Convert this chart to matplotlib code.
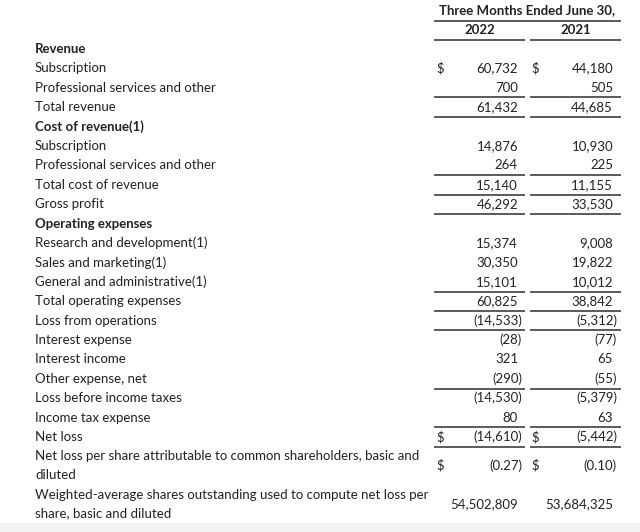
import matplotlib.pyplot as plt
from matplotlib.patches import Rectangle

plt.rcParams['font.family'] = ['Lato', 'DejaVu Sans']

# table content
labels = ["Revenue", "Subscription", "Professional services and other", "Total revenue",
          "Cost of revenue(1)", "Subscription", "Professional services and other",
          "Total cost of revenue", "Gross profit", "Operating expenses",
          "Research and development(1)", "Sales and marketing(1)",
          "General and administrative(1)", "Total operating expenses",
          "Loss from operations", "Interest expense", "Interest income",
          "Other expense, net", "Loss before income taxes", "Income tax expense",
          "Net loss",
          "Net loss per share attributable to common shareholders, basic and\ndiluted",
          "Weighted-average shares outstanding used to compute net loss per\nshare, basic and diluted"]
bold_rows = [0, 4, 9]
vals_2022 = ["", "60,732", "700", "61,432", "", "14,876", "264", "15,140", "46,292", "",
             "15,374", "30,350", "15,101", "60,825", "(14,533)", "(28)", "321", "(290)",
             "(14,530)", "80", "(14,610)", "(0.27)", "54,502,809"]
vals_2021 = ["", "44,180", "505", "44,685", "", "10,930", "225", "11,155", "33,530", "",
             "9,008", "19,822", "10,012", "38,842", "(5,312)", "(77)", "65", "(55)",
             "(5,379)", "63", "(5,442)", "(0.10)", "53,684,325"]
dollar_rows = [1, 20, 21]
rule_above = [3, 4, 7, 8, 9, 13, 14, 15, 18, 20, 21]

fig = plt.figure(figsize=(6.4, 5.32), dpi=100)
ax = fig.add_axes([0, 0, 1, 1])
ax.set_xlim(0, 640)
ax.set_ylim(532, 0)
ax.axis('off')

txt = '#222222'
rule = '#5a5a5a'
fs = 9.5
step = 19.4
y0 = 49

def row_y(i):
    if i <= 20:
        return y0 + step * i
    return y0 + step * 20 + 2 * step * (i - 20) - step / 2 - 0.5

# header
ax.text(527, 10, "Three Months Ended June 30,", ha='center', va='center',
        fontsize=fs, fontweight='bold', color=txt)
ax.text(480, 30, "2022", ha='center', va='center', fontsize=fs, fontweight='bold', color=txt)
ax.text(576, 30, "2021", ha='center', va='center', fontsize=fs, fontweight='bold', color=txt)
ax.plot([435, 620], [21, 21], color=rule, lw=1.4)
ax.plot([435, 524], [40, 40], color=rule, lw=1.4)
ax.plot([531, 620], [40, 40], color=rule, lw=1.4)

cols = [(vals_2022, 436, 518), (vals_2021, 531, 613)]
for i, lab in enumerate(labels):
    y = row_y(i)
    if '\n' in lab:
        ax.text(35, y, lab, ha='left', va='center', fontsize=fs, color=txt,
                linespacing=1.65)
    else:
        ax.text(35, y, lab, ha='left', va='center', fontsize=fs, color=txt,
                fontweight='bold' if i in bold_rows else 'normal')
    for vals, xd, xr in cols:
        v = vals[i]
        if not v:
            continue
        if v.startswith('('):
            ax.text(xr + 4, y, v, ha='right', va='center', fontsize=fs, color=txt)
        else:
            ax.text(xr, y, v, ha='right', va='center', fontsize=fs, color=txt)
        if i in dollar_rows:
            ax.text(xd, y, "$", ha='left', va='center', fontsize=fs, color=txt)

for r in rule_above:
    if r <= 20:
        yl = row_y(r) - step / 2
    else:
        yl = row_y(20) + step / 2
    ax.plot([435, 524], [yl, yl], color=rule, lw=1.4)
    ax.plot([531, 620], [yl, yl], color=rule, lw=1.4)

ax.add_patch(Rectangle((0, 523), 640, 9, color='#f3f3f3', lw=0))

fig.savefig('out.png', dpi=100)
